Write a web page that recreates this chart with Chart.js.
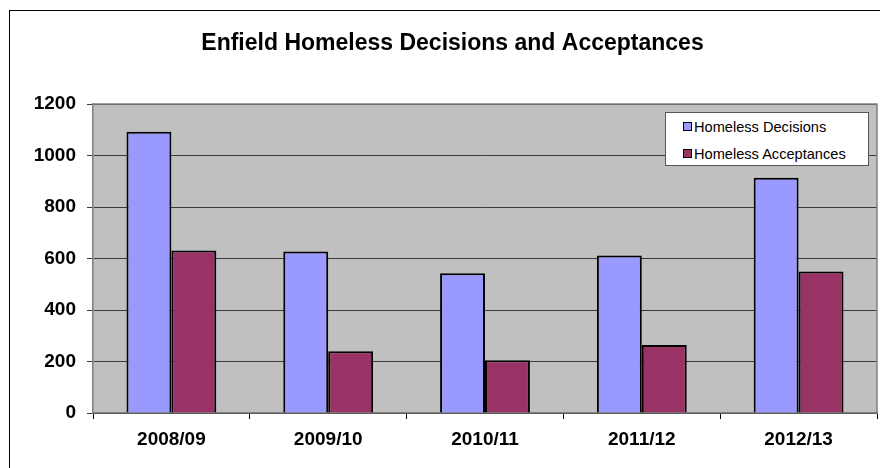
<!DOCTYPE html>
<html>
<head>
<meta charset="utf-8">
<script src="https://cdn.jsdelivr.net/npm/chart.js@4/dist/chart.umd.min.js"></script>
<style>
  html, body { margin: 0; padding: 0; background: #fff; }
  #wrap { position: relative; width: 880px; height: 468px; }
  #legend {
    position: absolute; left: 665px; top: 112px; width: 202px; height: 52px;
    background: #fff; border: 1px solid #555;
    font: 14.6px Arial, "Liberation Sans", sans-serif; color: #000;
  }
  #legend div { position: absolute; left: 17px; white-space: nowrap; line-height: 16px; }
  #legend span { display: inline-block; width: 7px; height: 7px; border: 1px solid #000; margin-right: 2px; vertical-align: 1px; }
</style>
</head>
<body>
<div id="wrap">
  <canvas id="chart" width="880" height="468"></canvas>
  <div id="legend"></div>
</div>
<script>
// data
const years = ['2008/09', '2009/10', '2010/11', '2011/12', '2012/13'];
const decisions = [1092, 627, 543, 612, 914];
const acceptances = [631, 240, 205, 264, 550];
const seriesNames = ['Homeless Decisions', 'Homeless Acceptances'];
const seriesColors = ['#9999FF', '#993366'];

const FONT = 'Arial, "Liberation Sans", sans-serif';

// grey plot background, plot border and the outer chart frame
const backdrop = {
  id: 'backdrop',
  beforeDraw(chart) {
    const { ctx, chartArea: a } = chart;
    ctx.save();
    ctx.strokeStyle = '#000';
    ctx.lineWidth = 1;
    ctx.strokeRect(9.5, 10.5, 900, 500);
    ctx.fillStyle = '#C0C0C0';
    ctx.fillRect(a.left, a.top, a.right - a.left, a.bottom - a.top);
    ctx.restore();
  },
  afterDatasetsDraw(chart) {
    const { ctx, chartArea: a } = chart;
    ctx.save();
    ctx.strokeStyle = '#808080';
    ctx.lineWidth = 1.5;
    ctx.beginPath();
    ctx.moveTo(a.left, a.top);
    ctx.lineTo(a.right, a.top);
    ctx.lineTo(a.right, a.bottom);
    ctx.stroke();
    ctx.restore();
  }
};

const chart = new Chart(document.getElementById('chart'), {
  type: 'bar',
  data: {
    labels: years,
    datasets: [
      { label: seriesNames[0], data: decisions, backgroundColor: seriesColors[0] },
      { label: seriesNames[1], data: acceptances, backgroundColor: seriesColors[1] }
    ]
  },
  options: {
    responsive: false,
    animation: false,
    layout: { padding: { left: 28, right: 3, top: 0, bottom: 0 } },
    datasets: {
      bar: {
        borderColor: '#000',
        borderWidth: 2,
        categoryPercentage: 0.573,
        barPercentage: 1.0
      }
    },
    plugins: {
      legend: { display: false },
      tooltip: { enabled: false },
      title: {
        display: true,
        text: 'Enfield Homeless Decisions and Acceptances',
        color: '#000',
        font: { family: FONT, size: 23, weight: 'bold', lineHeight: 1.2 },
        padding: { top: 30, bottom: 46.4 }
      }
    },
    scales: {
      x: {
        offset: true,
        afterFit(scale) { scale.height = 55; },
        grid: {
          offset: true,
          drawOnChartArea: false,
          color: '#000',
          tickLength: 6
        },
        border: { color: '#808080', width: 1.5 },
        ticks: {
          color: '#000',
          padding: 9,
          font: { family: FONT, size: 19, weight: 'bold' }
        }
      },
      y: {
        min: 0,
        max: 1200,
        afterFit(scale) { scale.width = 65; },
        grid: {
          color: '#3a3a3a',
          lineWidth: 1,
          tickLength: 6
        },
        border: { color: '#808080', width: 1.5 },
        ticks: {
          stepSize: 200,
          color: '#000',
          padding: 11,
          callback: (v) => String(v),
          font: { family: FONT, size: 19, weight: 'bold' }
        }
      }
    }
  },
  plugins: [backdrop]
});

// legend box drawn as real text from the series arrays
const legend = document.getElementById('legend');
seriesNames.forEach((name, i) => {
  const item = document.createElement('div');
  item.style.top = (i === 0 ? 6 : 33) + 'px';
  item.innerHTML = '<span style="background:' + seriesColors[i] + '"></span>' + name;
  legend.appendChild(item);
});
</script>
</body>
</html>
